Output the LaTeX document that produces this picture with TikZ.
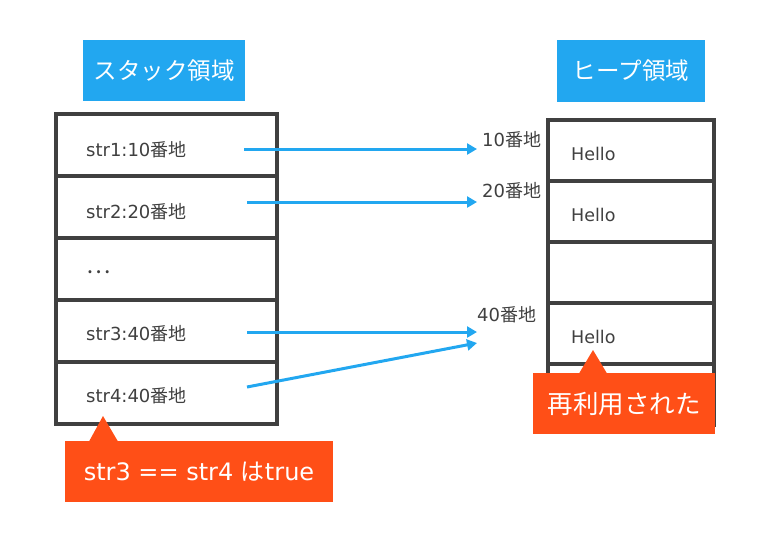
\documentclass[tikz,border=0pt]{standalone}
\usepackage{fontspec}
\setmainfont{Noto Sans CJK JP}
\newfontfamily\lat{DejaVu Sans}
\usetikzlibrary{arrows.meta}
\definecolor{bord}{HTML}{404040}
\definecolor{sky}{HTML}{22A7F0}
\definecolor{orng}{HTML}{FF4F17}
\definecolor{txt}{HTML}{404040}
\tikzset{
  cell/.style={draw=bord, line width=4pt, fill=white, inner sep=0pt},
  stackcell/.style={cell, minimum width=221pt, minimum height=62pt},
  heapcell/.style={cell, minimum width=166pt, minimum height=61pt},
  title/.style={fill=sky, text=white, inner sep=0pt, font=\fontsize{23.5}{26}\selectfont},
  lbl/.style={text=txt, inner sep=0pt, font=\fontsize{18}{20}\selectfont},
  callout/.style={fill=orng, text=white, inner sep=0pt, font=\fontsize{24}{28}\selectfont},
  ptr/.style={draw=sky, line width=3pt, -{Triangle[length=10pt,width=11pt]}},
}
\begin{document}
\begin{tikzpicture}[x=1pt,y=-1pt]
\useasboundingbox (0,0) rectangle (768,547);
% titles
\node[title, minimum width=162pt, minimum height=61pt] (st) at (164,70.5) {スタック領域};
\node[title, minimum width=148pt, minimum height=62pt] (ht) at (631,71) {ヒープ領域};
% stack cells
\node[stackcell] (s1) at (166.5,144.75) {};
\node[stackcell] (s2) at (166.5,207) {};
\node[stackcell] (s3) at (166.5,269) {};
\node[stackcell] (s4) at (166.5,331.25) {};
\node[stackcell] (s5) at (166.5,393.25) {};
\node[lbl, anchor=west] (t1) at (86,150) {{\lat str1:10}番地};
\node[lbl, anchor=west] (t2) at (86,211.5) {{\lat str2:20}番地};
\node[lbl, anchor=west, font=\fontsize{23}{26}\selectfont] (t3) at (86,272) {…};
\node[lbl, anchor=west] (t4) at (86,333.5) {{\lat str3:40}番地};
\node[lbl, anchor=west] (t5) at (86,396) {{\lat str4:40}番地};
% heap cells
\node[heapcell] (h1) at (631,150) {};
\node[heapcell] (h2) at (631,211) {};
\node[heapcell] (h3) at (631,272.5) {};
\node[heapcell] (h4) at (631,333.5) {};
\node[heapcell] (h5) at (631,394.5) {};
\node[lbl, anchor=west, font=\fontsize{17.5}{20}\selectfont] (e1) at (571,153.5) {\lat Hello};
\node[lbl, anchor=west, font=\fontsize{17.5}{20}\selectfont] (e2) at (571,214.5) {\lat Hello};
\node[lbl, anchor=west, font=\fontsize{17.5}{20}\selectfont] (e4) at (571,336.5) {\lat Hello};
% address labels
\node[lbl, anchor=west] (a1) at (482,140) {{\lat 10}番地};
\node[lbl, anchor=west] (a2) at (482,191) {{\lat 20}番地};
\node[lbl, anchor=west] (a4) at (477,315) {{\lat 40}番地};
% arrows
\coordinate (p1) at (244,149); \coordinate (q1) at (477,149);
\coordinate (p2) at (247,202); \coordinate (q2) at (477,202);
\coordinate (p4) at (247,332); \coordinate (q4) at (477,332);
\coordinate (p5) at (247,387); \coordinate (q5) at (477,343);
\draw[ptr] (p1) -- (q1);
\draw[ptr] (p2) -- (q2);
\draw[ptr] (p4) -- (q4);
\draw[ptr] (p5) -- (q5);
% callouts
\fill[orng] (89,441.5) -- (103,416) -- (118,441.5) -- cycle;
\node[callout, minimum width=268pt, minimum height=61pt] (c1) at (199,471.5) {{\lat str3 == str4 }は{\lat true}};
\fill[orng] (579,373.5) -- (593,350) -- (607,373.5) -- cycle;
\node[callout, minimum width=182pt, minimum height=61pt, font=\fontsize{25.5}{28}\selectfont] (c2) at (624,403.5) {再利用された};
\end{tikzpicture}
\end{document}
